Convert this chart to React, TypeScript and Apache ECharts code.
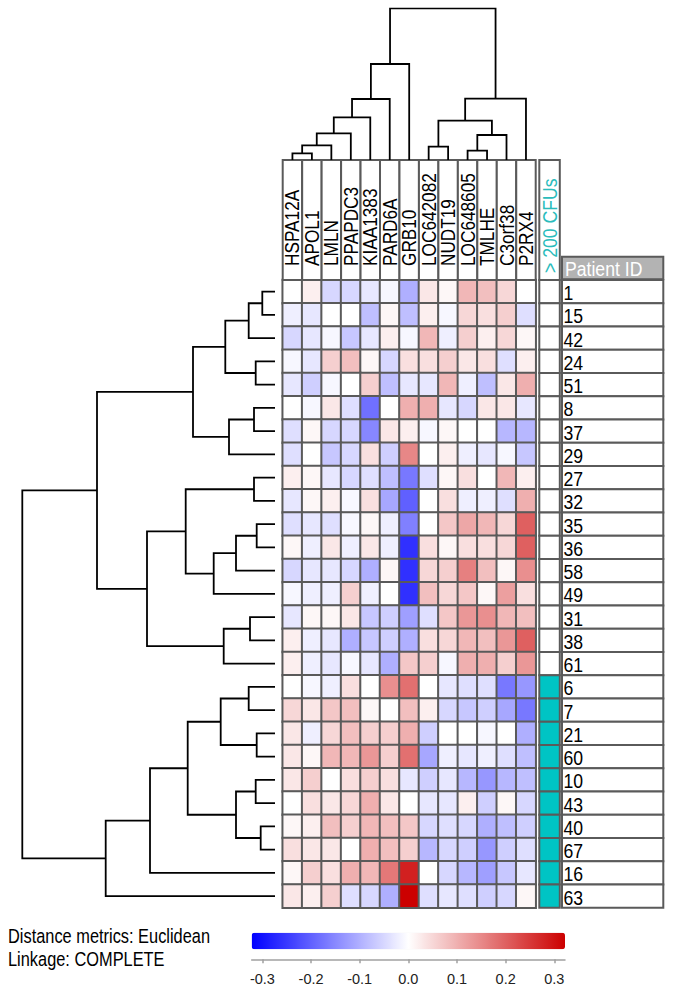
import React, { useEffect, useRef } from "react";
import * as echarts from "echarts";

const FONT = "'Liberation Sans', Arial, Helvetica, sans-serif";
const NARROW = 0.84;

const genes = ["HSPA12A", "APOL1", "LMLN", "PPAPDC3", "KIAA1383", "PARD6A", "GRB10", "LOC642082", "NUDT19", "LOC648605", "TMLHE", "C3orf38", "P2RX4"];
const patients = ["1", "15", "42", "24", "51", "8", "37", "29", "27", "32", "35", "36", "58", "49", "31", "38", "61", "6", "7", "21", "60", "10", "43", "40", "67", "16", "63"];
const cfuOver200 = [0, 0, 0, 0, 0, 0, 0, 0, 0, 0, 0, 0, 0, 0, 0, 0, 0, 1, 1, 1, 1, 1, 1, 1, 1, 1, 1];

// rows follow `patients`, columns follow `genes`
const expression = [
  [0.00, 0.02, -0.05, -0.05, -0.03, -0.01, -0.10, 0.03, 0.01, 0.09, 0.08, 0.05, 0.00],
  [-0.02, -0.03, 0.00, 0.00, -0.08, 0.01, -0.08, 0.02, -0.01, 0.05, 0.04, 0.06, -0.04],
  [-0.05, -0.03, -0.01, -0.07, -0.03, 0.02, -0.01, 0.09, -0.02, 0.06, 0.02, 0.05, 0.01],
  [-0.01, -0.03, 0.06, 0.08, 0.01, -0.05, 0.04, 0.04, 0.06, 0.03, 0.04, -0.04, 0.02],
  [-0.03, -0.06, -0.01, 0.00, 0.06, -0.08, -0.03, -0.03, 0.09, -0.02, -0.08, 0.03, 0.10],
  [0.00, -0.01, 0.03, -0.04, -0.18, 0.00, 0.10, 0.10, -0.03, -0.05, 0.03, 0.03, -0.03],
  [-0.04, 0.01, -0.05, -0.05, -0.15, 0.03, 0.02, -0.01, 0.01, 0.00, 0.00, -0.09, -0.09],
  [-0.04, 0.00, -0.07, -0.05, 0.04, -0.06, 0.15, 0.00, 0.02, -0.02, -0.03, -0.01, -0.07],
  [0.02, 0.01, -0.03, -0.05, -0.04, -0.08, -0.17, -0.04, 0.01, 0.04, 0.00, 0.09, 0.02],
  [-0.03, 0.01, 0.02, -0.01, 0.04, -0.11, -0.20, 0.00, 0.04, -0.02, -0.02, -0.04, 0.10],
  [-0.04, -0.03, -0.04, -0.01, 0.01, -0.02, -0.16, 0.00, 0.07, 0.11, 0.09, 0.05, 0.20],
  [0.01, -0.02, 0.03, -0.02, 0.03, -0.02, -0.26, 0.04, 0.01, 0.04, 0.04, 0.05, 0.20],
  [-0.05, -0.03, -0.03, -0.05, -0.10, 0.01, -0.26, 0.05, 0.06, 0.16, 0.08, 0.01, 0.14],
  [-0.01, -0.02, -0.02, 0.06, -0.02, 0.00, -0.26, 0.08, 0.05, 0.07, 0.01, 0.12, 0.04],
  [-0.03, 0.01, 0.01, 0.03, -0.07, -0.06, -0.12, -0.04, 0.07, 0.13, 0.14, 0.09, 0.08],
  [0.02, -0.02, -0.03, -0.10, -0.07, -0.06, -0.10, 0.04, 0.05, 0.09, 0.08, 0.13, 0.20],
  [0.02, -0.02, -0.03, -0.01, -0.03, -0.10, 0.07, 0.06, -0.01, 0.10, 0.10, 0.06, 0.13],
  [0.00, -0.01, -0.02, 0.04, 0.00, 0.14, 0.18, 0.00, -0.03, -0.04, -0.04, -0.17, -0.13],
  [0.05, 0.03, 0.07, 0.08, 0.01, 0.00, 0.08, 0.02, -0.05, -0.07, -0.06, -0.11, -0.17],
  [0.03, -0.02, 0.05, 0.08, 0.06, 0.06, 0.10, -0.06, 0.00, 0.00, -0.01, 0.00, -0.10],
  [0.03, 0.01, 0.09, 0.09, 0.13, 0.06, 0.18, -0.11, -0.02, -0.03, -0.02, -0.04, -0.08],
  [0.03, 0.06, 0.00, 0.04, 0.06, 0.04, -0.03, -0.06, -0.03, -0.09, -0.13, -0.09, -0.08],
  [0.00, 0.04, 0.03, 0.05, 0.10, 0.03, 0.00, -0.03, -0.03, 0.02, -0.06, 0.01, -0.05],
  [0.01, 0.02, 0.08, 0.06, 0.09, 0.08, 0.07, -0.05, -0.04, -0.05, -0.10, -0.08, -0.06],
  [0.04, 0.03, 0.03, 0.00, 0.10, 0.08, 0.06, -0.09, -0.05, -0.06, -0.13, -0.06, -0.04],
  [0.01, 0.06, 0.04, 0.10, 0.09, 0.17, 0.28, 0.00, -0.05, -0.09, -0.12, -0.07, -0.03],
  [0.03, 0.02, 0.06, -0.04, -0.05, -0.10, 0.32, -0.04, -0.03, -0.04, -0.06, -0.05, 0.01],
];

// linkage (scipy style): [childA, childB, height]; ids >= n are earlier merges
const geneLinkage = [
  [0, 1, 6.7], [13, 2, 14.7], [14, 3, 26.7], [15, 4, 42.7], [16, 5, 61], [17, 6, 96],
  [7, 8, 13.3], [9, 10, 9.3], [20, 11, 25], [19, 21, 39.3], [22, 12, 61.3], [18, 23, 151.7],
];
const patientLinkage = [
  [0, 1, 12.7], [27, 2, 26.3], [3, 4, 19.3], [28, 29, 49.7], [5, 6, 21], [31, 7, 46],
  [30, 32, 82], [8, 9, 21], [10, 11, 18.3], [35, 12, 39], [36, 13, 61.3], [34, 37, 89.3],
  [14, 15, 25], [39, 16, 51.3], [38, 40, 128], [33, 41, 178], [17, 18, 26.3], [19, 20, 18.3],
  [43, 44, 54.3], [21, 22, 19.3], [23, 24, 14.3], [46, 47, 39], [45, 48, 87.3], [49, 25, 125],
  [50, 26, 169.3], [42, 51, 252.7],
];
const colorTicks = [-0.3, -0.2, -0.1, 0, 0.1, 0.2, 0.3];
const colorRange = [-0.32, 0.32];

function dendroSegments(n: number, merges: number[][]) {
  const pos: number[] = [];
  const hts: number[] = [];
  for (let i = 0; i < n; i++) { pos[i] = i; hts[i] = 0; }
  const segs: number[][][] = [];
  merges.forEach(([a, b, h], k) => {
    const id = n + k;
    pos[id] = (pos[a] + pos[b]) / 2;
    hts[id] = h;
    segs.push([[pos[a], hts[a]], [pos[a], h], [pos[b], h], [pos[b], hts[b]]]);
  });
  return segs;
}

const BORDER = "#5a5a5a";

export default function App() {
  const ref = useRef<HTMLDivElement>(null);
  useEffect(() => {
    if (!ref.current) return;
    const chart = echarts.init(ref.current, null, { renderer: "svg" });

    const heatData: number[][] = [];
    expression.forEach((row, r) => row.forEach((v, c) => heatData.push([c, r, v])));

    const colSegs = dendroSegments(genes.length, geneLinkage).map((s) => ({ coords: s }));
    const rowSegs = dendroSegments(patients.length, patientLinkage).map((s) => ({
      coords: s.map(([p, h]) => [h, p]),
    }));

    const HL = 282.7, HW = 253, HT = 280, HH = 627.75;
    const option: any = {
      animation: false,
      backgroundColor: "#fff",
      grid: [
        { left: HL, top: HT, width: HW, height: HH },
        { left: HL, top: 160, width: HW, height: 120 },
        { left: HL, top: 8.3, width: HW, height: 151.7 },
        { left: 22.3, top: HT, width: 252.7, height: HH },
        { left: 539.3, top: HT, width: 20.5, height: HH },
        { left: 539.3, top: 160, width: 20.5, height: 120 },
        { left: 562, top: HT, width: 101.3, height: HH },
        { left: 251.7, top: 940, width: 313.3, height: 19.3 },
      ],
      xAxis: [
        { gridIndex: 0, type: "category", data: genes, show: false },
        { gridIndex: 1, type: "category", data: genes, show: false },
        { gridIndex: 2, type: "value", min: -0.5, max: 12.5, show: false },
        { gridIndex: 3, type: "value", min: 0, max: 252.7, inverse: true, show: false },
        { gridIndex: 4, type: "category", data: ["> 200 CFUs"], show: false },
        { gridIndex: 5, type: "category", data: ["> 200 CFUs"], show: false },
        { gridIndex: 6, type: "value", min: 0, max: 1, show: false },
        {
          gridIndex: 7, type: "value", min: -0.322, max: 0.322, position: "bottom",
          splitLine: { show: false },
          axisLine: { show: true, lineStyle: { color: "#a0a0a0", width: 1.5 } },
          axisTick: { show: true, length: 4, customValues: colorTicks, lineStyle: { color: "#a0a0a0", width: 1.5 } },
          axisLabel: {
            show: true, customValues: colorTicks, margin: 12, color: "#222",
            fontSize: 14.5, fontFamily: FONT, formatter: (v: number) => v.toFixed(1),
          },
        },
      ],
      yAxis: [
        { gridIndex: 0, type: "category", data: patients, inverse: true, show: false },
        { gridIndex: 1, type: "value", min: 0, max: 1, show: false },
        { gridIndex: 2, type: "value", min: 0, max: 151.7, show: false },
        { gridIndex: 3, type: "value", min: -0.5, max: 26.5, inverse: true, show: false },
        { gridIndex: 4, type: "category", data: patients, inverse: true, show: false },
        { gridIndex: 5, type: "value", min: 0, max: 1, show: false },
        { gridIndex: 6, type: "category", data: patients, inverse: true, show: false },
        { gridIndex: 7, type: "value", min: 0, max: 1, show: false },
      ],
      visualMap: {
        type: "continuous",
        seriesIndex: 0,
        min: colorRange[0],
        max: colorRange[1],
        orient: "horizontal",
        left: 251.7,
        top: 932.7,
        itemWidth: 16.6,
        itemHeight: 313.3,
        padding: 0,
        calculable: false,
        hoverLink: false,
        text: null,
        inRange: { color: ["#0000ff", "#ffffff", "#cc0000"] },
      },
      graphic: [
        { type: "rect", shape: { x: 562, y: 256.7, width: 101.3, height: 22.6 }, style: { fill: "#b3b3b3", stroke: BORDER, lineWidth: 2 } },
        { type: "text", x: 565, y: 268.5, scaleX: NARROW, style: { text: "Patient ID", fill: "#fff", fontSize: 21, fontFamily: FONT, align: "left", verticalAlign: "middle" } },
        { type: "text", x: 8, y: 937, scaleX: NARROW, style: { text: "Distance metrics: Euclidean", fill: "#000", fontSize: 19.5, fontFamily: FONT, align: "left", verticalAlign: "middle" } },
        { type: "text", x: 8, y: 960, scaleX: NARROW, style: { text: "Linkage: COMPLETE", fill: "#000", fontSize: 19.5, fontFamily: FONT, align: "left", verticalAlign: "middle" } },
      ],
      series: [
        {
          type: "heatmap", xAxisIndex: 0, yAxisIndex: 0, data: heatData,
          itemStyle: { borderColor: BORDER, borderWidth: 2 },
          emphasis: { disabled: true },
        },
        {
          type: "custom", xAxisIndex: 1, yAxisIndex: 1,
          data: genes.map((_, i) => [i, 1]),
          encode: { x: 0, y: 1 },
          renderItem: (params: any, api: any) => {
            const idx = api.value(0);
            const top = api.coord([idx, 1]);
            const bot = api.coord([idx, 0]);
            const w = api.size([1, 0])[0];
            return {
              type: "group",
              children: [
                { type: "rect", shape: { x: top[0] - w / 2, y: top[1], width: w, height: bot[1] - top[1] }, style: { fill: "#fff", stroke: BORDER, lineWidth: 2 } },
                { type: "text", x: bot[0], y: bot[1] - 14, rotation: Math.PI / 2, scaleX: NARROW, style: { text: genes[idx], fill: "#000", fontSize: 20.5, fontFamily: FONT, align: "left", verticalAlign: "middle" } },
              ],
            };
          },
        },
        {
          type: "lines", coordinateSystem: "cartesian2d", xAxisIndex: 2, yAxisIndex: 2,
          polyline: true, data: colSegs, silent: true,
          lineStyle: { color: "#000", width: 1.8, opacity: 1 },
        },
        {
          type: "lines", coordinateSystem: "cartesian2d", xAxisIndex: 3, yAxisIndex: 3,
          polyline: true, data: rowSegs, silent: true,
          lineStyle: { color: "#000", width: 1.8, opacity: 1 },
        },
        {
          type: "custom", xAxisIndex: 4, yAxisIndex: 4,
          data: cfuOver200.map((f, i) => [0, i, f]),
          encode: { x: 0, y: 1 },
          renderItem: (params: any, api: any) => {
            const c = api.coord([0, api.value(1)]);
            const s = api.size([1, 1]);
            return { type: "rect", shape: { x: c[0] - s[0] / 2, y: c[1] - s[1] / 2, width: s[0], height: s[1] }, style: { fill: api.value(2) ? "#00c4c4" : "#fff", stroke: BORDER, lineWidth: 2 } };
          },
        },
        {
          type: "custom", xAxisIndex: 5, yAxisIndex: 5,
          data: [[0, 1]],
          encode: { x: 0, y: 1 },
          renderItem: (params: any, api: any) => {
            const top = api.coord([0, 1]);
            const bot = api.coord([0, 0]);
            const w = api.size([1, 0])[0];
            return {
              type: "group",
              children: [
                { type: "rect", shape: { x: top[0] - w / 2, y: top[1], width: w, height: bot[1] - top[1] }, style: { fill: "#fff", stroke: BORDER, lineWidth: 2 } },
                { type: "text", x: bot[0], y: bot[1] - 7, rotation: Math.PI / 2, scaleX: 0.86, style: { text: "> 200 CFUs", fill: "#2bbcbc", fontSize: 20.5, fontFamily: FONT, align: "left", verticalAlign: "middle" } },
              ],
            };
          },
        },
        {
          type: "custom", xAxisIndex: 6, yAxisIndex: 6,
          data: patients.map((_, i) => [0, i]),
          encode: { x: 0, y: 1 },
          renderItem: (params: any, api: any) => {
            const i = api.value(1);
            const l = api.coord([0, i]);
            const r = api.coord([1, i]);
            const h = api.size([0, 1])[1];
            return {
              type: "group",
              children: [
                { type: "rect", shape: { x: l[0], y: l[1] - h / 2, width: r[0] - l[0], height: h }, style: { fill: "#fff", stroke: BORDER, lineWidth: 2 } },
                { type: "text", x: l[0] + 1.5, y: l[1] + 1, scaleX: NARROW, style: { text: patients[i], fill: "#000", fontSize: 21, fontFamily: FONT, align: "left", verticalAlign: "middle" } },
              ],
            };
          },
        },
      ],
    };
    chart.setOption(option);
    return () => chart.dispose();
  }, []);
  return <div ref={ref} style={{ position: "absolute", left: 0, top: 0, width: 677, height: 993, background: "#fff" }} />;
}
